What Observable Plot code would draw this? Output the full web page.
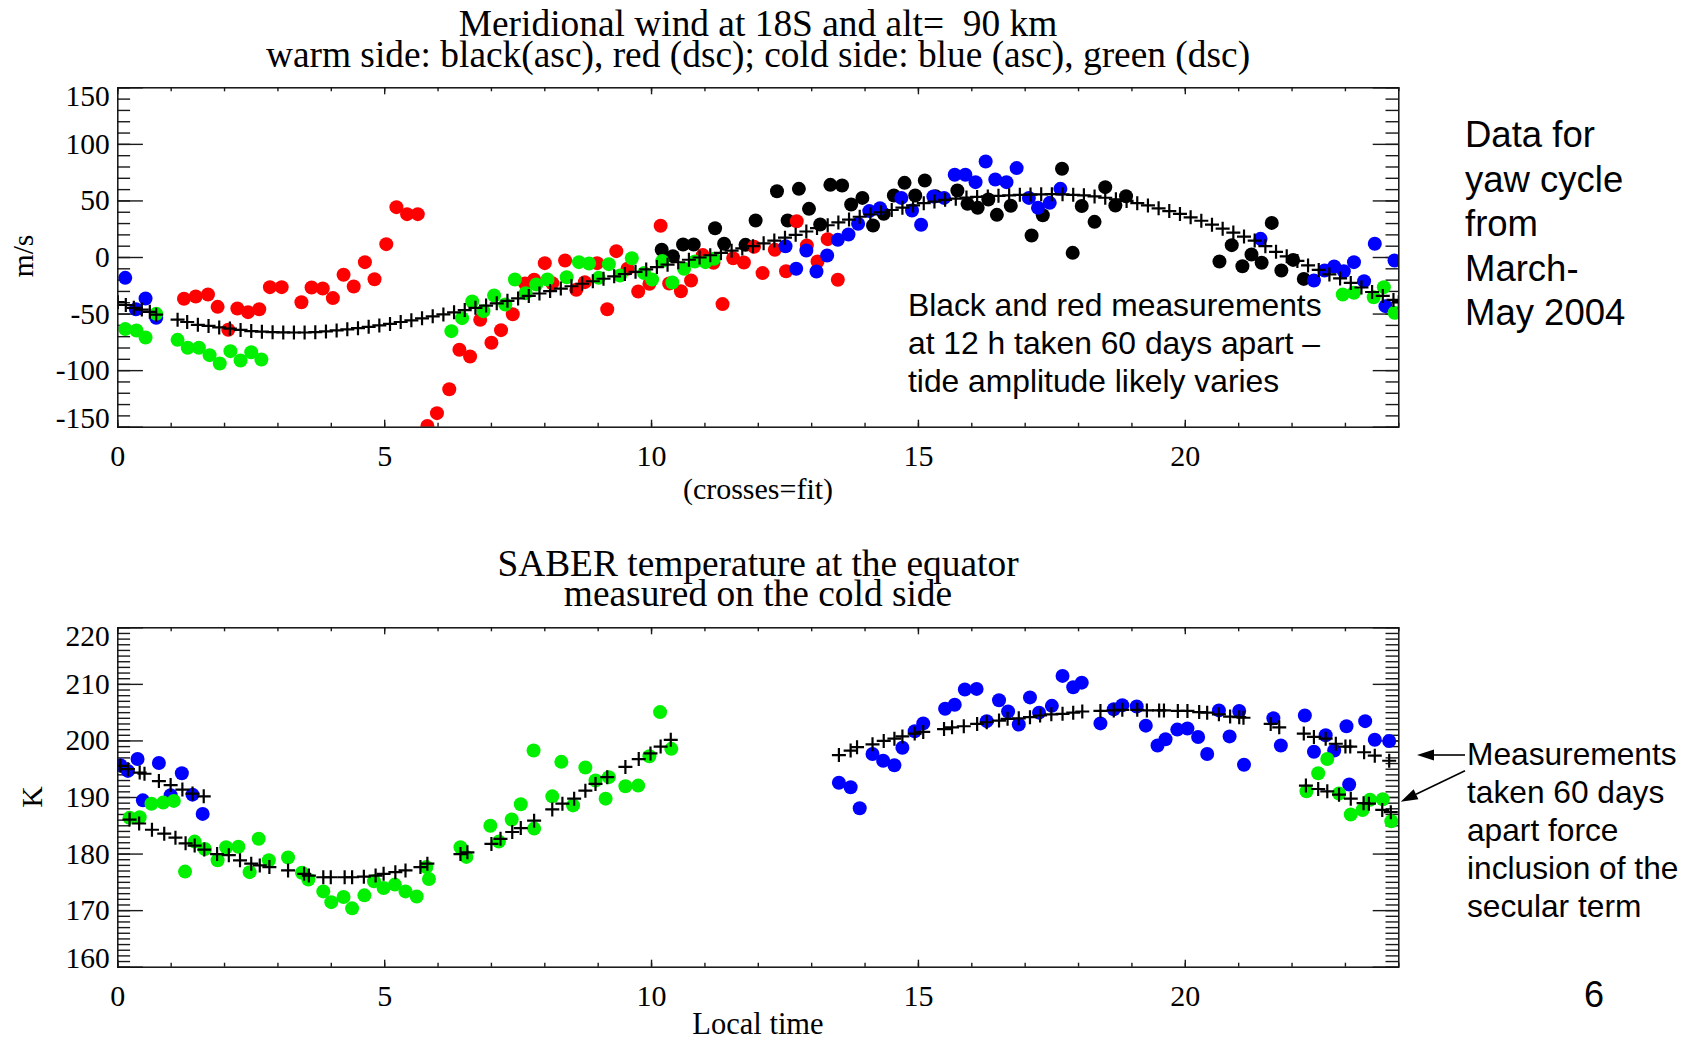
<!DOCTYPE html>
<html><head><meta charset="utf-8">
<script src="https://cdn.jsdelivr.net/npm/d3@7"></script>
<script src="https://cdn.jsdelivr.net/npm/@observablehq/plot@0.6"></script>
<style>
html,body{margin:0;padding:0;background:#fff;}
#page{position:relative;width:1693px;height:1041px;overflow:hidden;background:#fff;}
.t{position:absolute;white-space:nowrap;line-height:0.8;color:#000;}
.c{transform:translate(-50%,-50%);}
.l{transform:translate(0,-50%);}
.r90{transform:translate(-50%,-50%) rotate(-90deg);}
.serif{font-family:"Liberation Serif","Times New Roman",serif;}
.sans{font-family:"Liberation Sans",Arial,sans-serif;}
.plotbox{position:absolute;left:0;}
</style></head><body><div id="page"></div>
<script>
// ---------------- data ----------------
const hourTicks = [0, 5, 10, 15, 20];
const windTicks = [-150, -100, -50, 0, 50, 100, 150];
const tempTicks = [160, 170, 180, 190, 200, 210, 220];

// Meridional wind (local time h, m/s)
const windBlack = [[10.19,6.8],[10.40,1.2],[10.59,11.5],[10.79,11.5],[11.19,25.9],[11.36,12.1],[11.76,11.2],[11.95,32.7],[12.35,58.6],[12.55,32.7],[12.76,60.7],[12.95,43.0],[13.16,29.2],[13.35,64.2],[13.57,63.6],[13.74,46.8],[13.95,52.7],[14.15,28.3],[14.35,38.6],[14.54,54.8],[14.74,66.0],[14.94,54.8],[15.12,68.1],[15.32,54.2],[15.73,59.2],[15.92,47.4],[16.11,43.9],[16.31,51.3],[16.47,37.7],[16.73,45.7],[17.12,19.4],[17.33,37.4],[17.69,78.4],[17.89,4.1],[18.06,45.5],[18.30,31.5],[18.50,62.2],[18.69,46.0],[18.89,54.2],[20.64,-3.5],[20.87,10.9],[21.07,-7.7],[21.24,2.7],[21.43,-4.7],[21.62,30.6],[21.80,-11.5],[22.02,-2.1],[22.22,-18.9]];
const windRed = [[1.24,-36.5],[1.46,-34.5],[1.69,-32.7],[1.87,-43.6],[2.07,-63.9],[2.24,-45.1],[2.44,-48.3],[2.65,-45.7],[2.85,-26.2],[3.07,-26.2],[3.44,-39.5],[3.63,-26.5],[3.84,-27.4],[4.03,-35.9],[4.23,-15.3],[4.42,-25.6],[4.63,-4.1],[4.81,-19.2],[5.03,11.8],[5.22,44.5],[5.42,38.3],[5.62,38.3],[5.80,-149],[5.98,-137.6],[6.21,-116.4],[6.40,-81.6],[6.60,-87.5],[6.79,-55.1],[7.00,-75.4],[7.18,-64.2],[7.40,-50.1],[7.63,-23.0],[7.80,-19.7],[8.00,-5.0],[8.14,-22.7],[8.38,-2.7],[8.59,-28.6],[8.75,-21.8],[8.98,-5.0],[9.17,-45.7],[9.34,5.6],[9.55,-10.0],[9.75,-30.1],[9.96,-23.3],[10.17,28.0],[10.33,-23.0],[10.55,-29.8],[10.74,-20.3],[10.96,2.1],[11.16,-4.7],[11.33,-41.2],[11.53,-0.6],[11.73,-4.4],[11.92,9.5],[12.08,-13.8],[12.31,6.8],[12.52,-12.1],[12.72,32.1],[12.91,10.6],[13.11,-3.5],[13.30,16.2],[13.49,-19.7]];
const windBlue = [[0.14,-18.0],[0.34,-45.7],[0.52,-36.2],[0.72,-53.3],[12.51,10.0],[12.71,-10.0],[12.90,6.2],[13.09,-12.4],[13.29,1.8],[13.49,15.6],[13.69,20.3],[13.87,29.8],[14.08,41.0],[14.28,43.6],[14.68,52.7],[14.88,41.5],[15.05,28.9],[15.28,53.9],[15.48,52.7],[15.68,73.1],[15.88,73.1],[16.07,66.6],[16.26,84.9],[16.44,68.9],[16.65,66.6],[16.84,79.0],[17.07,52.7],[17.24,43.9],[17.46,48.3],[17.66,60.7],[21.41,16.5],[22.41,-20.3],[22.61,-11.5],[22.79,-8.0],[22.97,-12.1],[23.16,-4.1],[23.35,-20.9],[23.55,12.1],[23.75,-43.0],[23.92,-2.7]];
const windGreen = [[0.14,-63.3],[0.35,-64.5],[0.52,-70.7],[0.72,-49.8],[1.12,-72.8],[1.31,-79.8],[1.52,-79.8],[1.72,-86.3],[1.91,-93.7],[2.11,-82.8],[2.30,-91.0],[2.50,-83.7],[2.69,-90.2],[6.25,-65.1],[6.45,-53.6],[6.64,-38.9],[6.85,-47.4],[7.05,-33.6],[7.26,-41.5],[7.44,-19.4],[7.64,-31.5],[7.84,-23.9],[8.05,-19.4],[8.41,-17.4],[8.64,-4.1],[8.83,-5.3],[9.01,-18.0],[9.20,-5.9],[9.41,-15.9],[9.63,-0.6],[9.86,-13.8],[10.01,-19.4],[10.20,-3.2],[10.39,-22.1],[10.61,-10.0],[10.81,-3.5],[11.01,-4.1],[11.17,-1.2],[22.95,-32.7],[23.16,-31.2],[23.53,-35.1],[23.72,-26.2],[23.92,-48.9]];
const windFit = [[0.0,-39.5],[0.15,-42],[0.3,-44.5],[0.45,-46],[0.6,-48],[0.72,-50.5],[1.12,-55],[1.3,-57],[1.5,-59.5],[1.7,-60.5],[1.9,-61.8],[2.1,-62.8],[2.3,-64],[2.5,-65],[2.7,-65.6],[2.9,-66],[3.1,-66.2],[3.3,-66.3],[3.5,-66.3],[3.7,-66],[3.9,-65.3],[4.1,-64.5],[4.3,-63.5],[4.5,-62.5],[4.7,-61.3],[4.9,-60],[5.1,-58.7],[5.3,-57],[5.5,-55.5],[5.7,-53.8],[5.9,-52],[6.1,-50.3],[6.3,-48.5],[6.5,-46.5],[6.7,-44.5],[6.9,-42.5],[7.1,-40.5],[7.3,-38.3],[7.5,-36.2],[7.7,-34],[7.9,-31.8],[8.1,-29.7],[8.3,-27.5],[8.5,-25.4],[8.7,-23.2],[8.9,-21],[9.1,-18.8],[9.3,-16.6],[9.5,-14.6],[9.7,-12.7],[9.9,-10.5],[10.1,-8.5],[10.3,-6.3],[10.5,-4.2],[10.7,-2],[10.9,0],[11.1,2],[11.3,4],[11.5,6],[11.7,8],[11.9,10],[12.1,12.5],[12.3,15],[12.5,17.5],[12.7,20],[12.9,23],[13.1,26],[13.3,28.5],[13.5,31],[13.7,33.5],[13.9,36],[14.1,38],[14.3,40],[14.5,42],[14.7,44],[14.9,46],[15.1,48],[15.3,49.5],[15.5,51],[15.7,52],[15.9,53],[16.1,53.5],[16.3,54],[16.5,54.5],[16.7,55],[16.9,55.4],[17.1,55.6],[17.3,55.8],[17.5,56],[17.7,55.8],[17.9,55.4],[18.1,55],[18.3,54],[18.5,52.8],[18.7,51.5],[18.9,50],[19.1,48],[19.3,46],[19.5,43.5],[19.7,41],[19.9,38.5],[20.1,35.5],[20.3,32.5],[20.5,29],[20.7,25.5],[20.9,22],[21.1,18.5],[21.3,15],[21.5,10],[21.7,5],[21.9,1],[22.1,-3],[22.3,-7],[22.5,-11],[22.7,-15],[22.9,-18.5],[23.1,-22.5],[23.3,-26.5],[23.5,-30.5],[23.7,-34],[23.9,-37.5],[24.0,-39.5]];

// SABER temperature (local time h, K)
const tempBlue = [[0.05,195.7],[0.19,194.7],[0.37,196.8],[0.47,189.5],[0.77,196.1],[0.99,190.4],[1.20,194.3],[1.40,190.5],[1.59,187.1],[13.51,192.6],[13.73,191.8],[13.90,188.1],[14.14,197.7],[14.34,196.5],[14.55,195.7],[14.70,198.8],[14.93,201.7],[15.09,203.1],[15.50,205.7],[15.68,206.4],[15.87,209.1],[16.09,209.2],[16.28,203.5],[16.51,207.2],[16.68,205.2],[16.88,202.9],[17.09,207.7],[17.26,205.0],[17.50,206.2],[17.70,211.5],[17.90,209.5],[18.06,210.3],[18.41,203.1],[18.66,205.6],[18.82,206.3],[19.09,206.1],[19.26,202.7],[19.48,199.2],[19.63,200.3],[19.85,202.0],[20.04,202.2],[20.24,200.7],[20.41,197.7],[20.63,205.4],[20.83,200.8],[21.01,205.3],[21.10,195.8],[21.65,204.0],[21.79,199.2],[22.24,204.5],[22.41,198.1],[22.63,201.0],[22.79,198.3],[23.02,202.6],[23.07,192.3],[23.37,203.5],[23.55,200.2],[23.82,200.0]];
const tempGreen = [[0.22,186.4],[0.41,186.5],[0.63,188.9],[0.85,189.1],[1.05,189.4],[1.26,176.9],[1.44,182.2],[1.63,180.9],[1.87,178.9],[2.03,181.2],[2.26,181.3],[2.47,176.8],[2.64,182.7],[2.83,178.9],[3.19,179.4],[3.45,176.7],[3.57,175.5],[3.85,173.4],[4.00,171.5],[4.23,172.4],[4.39,170.4],[4.62,172.7],[4.80,175.2],[4.98,174.0],[5.19,174.6],[5.39,173.4],[5.60,172.5],[5.78,177.7],[5.83,175.6],[6.42,181.2],[6.53,179.5],[6.98,185.0],[7.14,182.2],[7.38,186.1],[7.55,188.8],[7.79,198.3],[7.80,184.5],[8.14,190.2],[8.31,196.3],[8.53,188.6],[8.76,195.3],[8.95,193.0],[9.14,189.8],[9.20,193.6],[9.51,192.0],[9.75,192.1],[9.96,197.3],[10.16,205.1],[10.37,198.6],[22.27,191.1],[22.49,194.3],[22.66,196.8],[22.88,190.7],[23.10,187.0],[23.32,187.8],[23.46,189.6],[23.70,189.7],[23.86,185.8]];
const tempFit = [[0.05,195.6],[0.19,195.0],[0.41,194.4],[0.50,194.2],[0.77,192.9],[0.99,192.2],[1.21,191.4],[1.40,190.7],[1.61,190.2],
 [0.22,186.1],[0.40,185.4],[0.64,184.3],[0.87,183.6],[1.08,182.9],[1.27,181.9],[1.44,181.5],[1.62,180.8],[1.86,180.0],[2.08,179.8],[2.29,178.9],[2.50,178.3],[2.66,178.0],[2.84,177.7],[3.19,177.1],[3.49,176.5],[3.58,176.2],[3.85,175.9],[3.99,175.9],[4.25,175.9],[4.39,175.9],[4.61,176.0],[4.83,176.2],[4.98,176.5],[5.20,176.8],[5.39,177.1],[5.67,177.7],[5.80,178.3],[6.42,180.0],[6.55,180.3],[7.00,181.8],[7.17,182.7],[7.39,183.9],[7.55,184.6],[7.80,185.9],[8.14,187.9],[8.33,188.9],[8.55,189.8],[8.76,191.2],[8.95,192.4],[9.17,193.6],[9.51,195.4],[9.76,196.8],[9.98,197.8],[10.17,199.0],[10.36,200.2],
 [13.51,197.5],[13.73,198.3],[13.85,198.9],[14.14,199.4],[14.35,200.0],[14.55,200.4],[14.70,200.8],[14.93,201.3],[15.09,201.6],[15.48,202.1],[15.63,202.4],[15.85,202.6],[16.10,203.0],[16.28,203.3],[16.51,203.6],[16.67,203.9],[16.88,204.0],[17.09,204.2],[17.28,204.5],[17.49,204.7],[17.70,204.8],[17.90,205.0],[18.07,205.2],[18.41,205.3],[18.66,205.4],[18.82,205.5],[19.10,205.5],[19.28,205.4],[19.51,205.4],[19.60,205.4],[19.86,205.3],[20.04,205.3],[20.26,205.1],[20.41,205.0],[20.63,204.7],[20.84,204.3],[21.01,204.2],[21.09,204.1],[21.60,203.0],[21.76,202.4],[22.22,201.3],[22.41,200.7],[22.63,200.4],[22.82,199.5],[23.00,199.0],[23.09,199.0],[23.35,198.0],[23.55,197.4],[23.82,196.5],
 [22.26,192.1],[22.49,191.5],[22.66,191.1],[22.88,190.5],[23.10,189.8],[23.34,189.0],[23.44,188.9],[23.69,187.8],[23.85,187.4]];

// ---------------- layout ----------------
const W = 1693, H = 500;
const M = {top: 87.3, bottom: 73.3, left: 117.3, right: 294.7};
const PW = W - M.left - M.right, PH = H - M.top - M.bottom;
const COLORS = {black: "#000000", red: "#ff0000", blue: "#0000ff", green: "#00f000"};

const plusSymbol = {
  draw(context, size) {
    const r = Math.sqrt(size / Math.PI);
    context.moveTo(-r, 0); context.lineTo(r, 0);
    context.moveTo(0, -r); context.lineTo(0, r);
  }
};

function panel({yDomain, yMajor, yMinor, series, fit}) {
  const hourMinor = d3.range(0, 25, 1);
  const tk = {stroke: "#1a1a1a", strokeWidth: 1.4};
  const lab = {anchor: "left", tickSize: 0, tickPadding: 8, tickFormat: d => String(d), fontSize: 29.5, label: null};
  const yInner = yMajor.slice(1, -1);
  const marks = [
    Plot.tickY(yMinor, {y: d => d, insetRight: PW - 12.8, ...tk}),
    Plot.tickY(yMinor, {y: d => d, insetLeft: PW - 12.8, ...tk}),
    Plot.tickY(yMajor, {y: d => d, insetRight: PW - 25.6, ...tk}),
    Plot.tickY(yMajor, {y: d => d, insetLeft: PW - 25.6, ...tk}),
    Plot.tickX(hourMinor, {x: d => d, insetTop: PH - 4, ...tk}),
    Plot.tickX(hourMinor, {x: d => d, insetBottom: PH - 4, ...tk}),
    Plot.tickX(hourTicks, {x: d => d, insetTop: PH - 7, ...tk}),
    Plot.tickX(hourTicks, {x: d => d, insetBottom: PH - 7, ...tk}),
    ...series.map(([data, color]) => Plot.dot(data, {x: d => d[0], y: d => d[1], r: 7, fill: color, clip: true})),
    Plot.dot(fit, {x: d => d[0], y: d => d[1], symbol: plusSymbol, r: 7, stroke: "#000", strokeWidth: 2.2, fill: "none", clip: true}),
    Plot.frame({stroke: "#111", strokeWidth: 1.5}),
    Plot.axisY({ticks: yInner, ...lab}),
    Plot.axisY({ticks: [yMajor[yMajor.length - 1]], ...lab, dy: 9}),
    Plot.axisY({ticks: [yMajor[0]], ...lab, dy: -9}),
    Plot.axisX({ticks: hourTicks, anchor: "bottom", tickSize: 0, tickPadding: 17, tickFormat: d => String(d), fontSize: 30, label: null})
  ];
  return Plot.plot({
    width: W, height: H,
    marginTop: M.top, marginBottom: M.bottom, marginLeft: M.left, marginRight: M.right,
    x: {domain: [0, 24], label: null},
    y: {domain: yDomain, label: null},
    style: {fontFamily: "'Liberation Serif', 'Times New Roman', serif", background: "transparent", maxWidth: "none", color: "#000"},
    marks
  });
}

const page = document.getElementById("page");

const top1 = panel({
  yDomain: [-150, 150], yMajor: windTicks, yMinor: d3.range(-150, 151, 10),
  series: [[windBlack, COLORS.black], [windRed, COLORS.red], [windBlue, COLORS.blue], [windGreen, COLORS.green]],
  fit: windFit
});
const box1 = document.createElement("div"); box1.className = "plotbox"; box1.style.top = "0px";
box1.appendChild(top1); page.appendChild(box1);

const bot = panel({
  yDomain: [160, 220], yMajor: tempTicks, yMinor: d3.range(160, 221, 1),
  series: [[tempBlue, COLORS.blue], [tempGreen, COLORS.green]],
  fit: tempFit
});
const box2 = document.createElement("div"); box2.className = "plotbox"; box2.style.top = "540px";
box2.appendChild(bot); page.appendChild(box2);

// ---------------- texts ----------------
function txt(s, x, y, cls, size) {
  const d = document.createElement("div");
  d.className = "t " + cls;
  d.textContent = s;
  d.style.left = x + "px"; d.style.top = y + "px"; d.style.fontSize = size + "px";
  page.appendChild(d);
  return d;
}
txt("Meridional wind at 18S and alt=\u00a0 90 km", 758, 24, "serif c", 37.4);
txt("warm side: black(asc), red (dsc); cold side: blue (asc), green (dsc)", 758, 54.5, "serif c", 37.4);
txt("m/s", 24, 256, "serif r90", 29.5);
txt("(crosses=fit)", 758, 489, "serif c", 30);
txt("SABER temperature at the equator", 758, 564, "serif c", 37.4);
txt("measured on the cold side", 758, 594, "serif c", 37.4);
txt("K", 32, 797, "serif r90", 30);
txt("Local time", 758, 1023.5, "serif c", 30.5);

["Data for", "yaw cycle", "from", "March-", "May 2004"].forEach((s, i) => txt(s, 1465, 135 + i * 44.5, "sans l", 36.5));
["Black and red measurements", "at 12 h taken 60 days apart \u2013", "tide amplitude likely varies"].forEach((s, i) => txt(s, 908, 305.5 + i * 38.4, "sans l", 31.8));
["Measurements", "taken 60 days", "apart force", "inclusion of the", "secular term"].forEach((s, i) => txt(s, 1467, 754.5 + i * 38.2, "sans l", 31.7));
txt("6", 1594, 995, "sans c", 36);

// ---------------- annotation arrows ----------------
const ns = "http://www.w3.org/2000/svg";
const ov = document.createElementNS(ns, "svg");
ov.setAttribute("width", W); ov.setAttribute("height", 1041);
ov.style.position = "absolute"; ov.style.left = "0"; ov.style.top = "0"; ov.style.pointerEvents = "none";
function arrow(x0, y0, x1, y1) {
  const dx = x1 - x0, dy = y1 - y0, L = Math.hypot(dx, dy), ux = dx / L, uy = dy / L;
  const hl = 17, hw = 5.5;
  const bx = x1 - ux * hl, by = y1 - uy * hl;
  const line = document.createElementNS(ns, "line");
  line.setAttribute("x1", x0); line.setAttribute("y1", y0); line.setAttribute("x2", bx); line.setAttribute("y2", by);
  line.setAttribute("stroke", "#000"); line.setAttribute("stroke-width", 1.6);
  const head = document.createElementNS(ns, "polygon");
  head.setAttribute("points", `${x1},${y1} ${bx - uy * hw},${by + ux * hw} ${bx + uy * hw},${by - ux * hw}`);
  head.setAttribute("fill", "#000");
  ov.appendChild(line); ov.appendChild(head);
}
arrow(1465, 755, 1417, 755);
arrow(1465, 770.7, 1400.7, 801.7);
page.appendChild(ov);
</script></body></html>
